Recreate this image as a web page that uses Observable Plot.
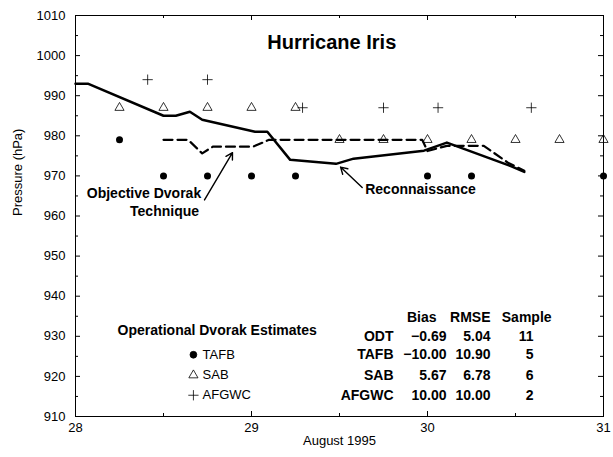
<!DOCTYPE html>
<html>
<head>
<meta charset="utf-8">
<script src="https://cdn.jsdelivr.net/npm/d3@7"></script>
<script src="https://cdn.jsdelivr.net/npm/@observablehq/plot@0.6"></script>
<style>
  html, body { margin: 0; padding: 0; background: #fff; }
  #chart svg { display: block; }
</style>
</head>
<body>
<div id="chart"></div>
<script>
// Reconnaissance (solid line)
const reconDay = [28.0, 28.07, 28.5, 28.57, 28.65, 28.72, 29.02, 29.09, 29.22, 29.48, 29.58, 29.98, 30.11, 30.47, 30.55];
const reconHPa = [993, 993, 985, 985, 986, 984, 981, 981, 974, 973, 974.3, 976.3, 978.3, 972.5, 971];
// Objective Dvorak Technique (dashed line)
const odtDay = [28.5, 28.64, 28.72, 28.78, 29.01, 29.1, 29.97, 30.0, 30.11, 30.32, 30.46, 30.55];
const odtHPa = [979, 979, 975.6, 977.3, 977.3, 979, 979, 976.2, 977.5, 977.5, 973.2, 971.3];
// Operational Dvorak estimates
const tafbDay = [28.25, 28.5, 28.75, 29.0, 29.25, 30.0, 30.25, 31.0];
const tafbHPa = [979, 970, 970, 970, 970, 970, 970, 970];
const sabDay = [28.25, 28.5, 28.75, 29.0, 29.25, 29.5, 29.75, 30.0, 30.25, 30.5, 30.75, 31.0];
const sabHPa = [987, 987, 987, 987, 987, 979, 979, 979, 979, 979, 979, 979];
const afgwcDay = [28.41, 28.75, 29.29, 29.75, 30.06, 30.59];
const afgwcHPa = [994, 994, 987, 987, 987, 987];

// Axis ticks
const xMajor = [28, 29, 30, 31];
const xMinor = [28.5, 29.5, 30.5];
const yMajor = d3.range(910, 1011, 10);
const yMinor = d3.range(915, 1010, 10);

// Statistics table
const tableRows = ["ODT", "TAFB", "SAB", "AFGWC"];
const biasVals = ["\u22120.69", "\u221210.00", "5.67", "10.00"];
const rmseVals = ["5.04", "10.90", "6.78", "10.00"];
const sampleVals = ["11", "5", "6", "2"];
const tableHeaders = ["Bias", "RMSE", "Sample"];

// Legend
const legendNames = ["TAFB", "SAB", "AFGWC"];
const legendSymbols = ["circle", "triangle", "plus"];

const recon = reconDay.map((d, i) => ({d, p: reconHPa[i]}));
const odt = odtDay.map((d, i) => ({d, p: odtHPa[i]}));
const tafb = tafbDay.map((d, i) => ({d, p: tafbHPa[i]}));
const sab = sabDay.map((d, i) => ({d, p: sabHPa[i]}));
const afgwc = afgwcDay.map((d, i) => ({d, p: afgwcHPa[i]}));

// layout anchors (data units)
const rowY = [930, 925.4, 920.3, 915.3];
const headerY = 934.6;
const colLabelX = 29.807, colBiasX = 30.108, colRmseX = 30.358, colSampleX = 30.602;
const headerX = [30.051, 30.358, 30.705];

const table = tableRows.map((r, i) => ({r, b: biasVals[i], m: rmseVals[i], s: sampleVals[i], y: rowY[i]}));
const headers = tableHeaders.map((h, i) => ({h, x: headerX[i], y: headerY}));
const legend = legendNames.map((n, i) => ({n, sym: legendSymbols[i], y: rowY[i + 1]}));

const font = "'Liberation Sans', Arial, Helvetica, sans-serif";
const intFmt = d => String(d);

// plot geometry
const W = 613, H = 457, mL = 75, mR = 10, mT = 15, mB = 41;
const xDom = [28, 31], yDom = [910, 1010];
const dayPerPx = (xDom[1] - xDom[0]) / (W - mL - mR);
const hPaPerPx = (yDom[1] - yDom[0]) / (H - mT - mB);
const major = 5, minor = 3; // tick lengths in px
const yTicks = (vals, len) => [
  Plot.ruleY(vals, {y: d => d, x1: xDom[0], x2: xDom[0] + len * dayPerPx, stroke: "#000", strokeWidth: 1}),
  Plot.ruleY(vals, {y: d => d, x1: xDom[1] - len * dayPerPx, x2: xDom[1], stroke: "#000", strokeWidth: 1})
];
const xTicks = (vals, len) => [
  Plot.ruleX(vals, {x: d => d, y1: yDom[0], y2: yDom[0] + len * hPaPerPx, stroke: "#000", strokeWidth: 1}),
  Plot.ruleX(vals, {x: d => d, y1: yDom[1] - len * hPaPerPx, y2: yDom[1], stroke: "#000", strokeWidth: 1})
];

const chart = Plot.plot({
  width: W,
  height: H,
  marginLeft: mL,
  marginRight: mR,
  marginTop: mT,
  marginBottom: mB,
  x: {domain: xDom, label: null},
  y: {domain: yDom, label: null},
  style: {fontFamily: font, fontSize: "13px", color: "#000", background: "#fff"},
  marks: [
    Plot.frame({stroke: "#000", strokeWidth: 1}),
    // labels
    Plot.axisY({ticks: yMajor, tickSize: 0, tickPadding: 10, fontSize: 13, tickFormat: intFmt, label: null}),
    Plot.axisX({ticks: xMajor, tickSize: 0, tickPadding: 6, fontSize: 13, tickFormat: intFmt, label: null}),
    // inward ticks
    ...yTicks(yMajor, major),
    ...yTicks(yMinor, minor),
    ...xTicks(xMajor, major),
    ...xTicks(xMinor, minor),
    // axis titles
    Plot.text(["Pressure (hPa)"], {frameAnchor: "left", dx: -58, rotate: -90, fontSize: 13, fill: "#000"}),
    Plot.text(["August 1995"], {frameAnchor: "bottom", dy: 28, fontSize: 13, fill: "#000"}),
    // series
    Plot.line(odt, {x: "d", y: "p", stroke: "#000", strokeWidth: 2.2, strokeDasharray: "9,5"}),
    Plot.line(recon, {x: "d", y: "p", stroke: "#000", strokeWidth: 2.5}),
    Plot.dot(tafb, {x: "d", y: "p", r: 3.5, fill: "#000", stroke: "none"}),
    Plot.dot(sab, {x: "d", y: "p", r: 3.4, symbol: "triangle", stroke: "#000", fill: "none", strokeWidth: 0.8}),
    Plot.dot(afgwc, {x: "d", y: "p", r: 3.4, symbol: "plus", stroke: "#000", strokeWidth: 0.8}),
    // title
    Plot.text(["Hurricane Iris"], {x: 29.09, y: 1003.3, textAnchor: "start", fontSize: 20, fontWeight: "bold", fill: "#000"}),
    // annotations
    Plot.text(["Objective Dvorak"], {x: 28.389, y: 965.6, fontSize: 14, fontWeight: "bold", fill: "#000"}),
    Plot.text(["Technique"], {x: 28.506, y: 961.2, fontSize: 14, fontWeight: "bold", fill: "#000"}),
    Plot.arrow([{x1: 28.733, y1: 964, x2: 28.892, y2: 975.8}], {x1: "x1", y1: "y1", x2: "x2", y2: "y2", stroke: "#000", strokeWidth: 1.4, headLength: 8}),
    Plot.text(["Reconnaissance"], {x: 29.96, y: 966.7, fontSize: 14, fontWeight: "bold", fill: "#000"}),
    Plot.arrow([{x1: 29.629, y1: 967.1, x2: 29.506, y2: 972.2}], {x1: "x1", y1: "y1", x2: "x2", y2: "y2", stroke: "#000", strokeWidth: 1.4, headLength: 8}),
    // legend
    Plot.text(["Operational Dvorak Estimates"], {x: 28.239, y: 931.4, textAnchor: "start", fontSize: 14, fontWeight: "bold", fill: "#000"}),
    Plot.dot(legend, {x: 28.67, y: "y", symbol: "sym", r: 3.4, fill: d => d.sym === "circle" ? "#000" : "none", stroke: "#000", strokeWidth: 0.8}),
    Plot.text(legend, {x: 28.722, y: "y", text: "n", textAnchor: "start", fontSize: 13, fill: "#000"}),
    // table
    Plot.text(headers, {x: "x", y: "y", text: "h", textAnchor: "end", fontSize: 14, fontWeight: "bold", fill: "#000"}),
    Plot.text(table, {x: colLabelX, y: "y", text: "r", textAnchor: "end", fontSize: 14, fontWeight: "bold", fill: "#000"}),
    Plot.text(table, {x: colBiasX, y: "y", text: "b", textAnchor: "end", fontSize: 14, fontWeight: "bold", fill: "#000"}),
    Plot.text(table, {x: colRmseX, y: "y", text: "m", textAnchor: "end", fontSize: 14, fontWeight: "bold", fill: "#000"}),
    Plot.text(table, {x: colSampleX, y: "y", text: "s", textAnchor: "end", fontSize: 14, fontWeight: "bold", fill: "#000"})
  ]
});
document.getElementById("chart").appendChild(chart);
</script>
</body>
</html>
